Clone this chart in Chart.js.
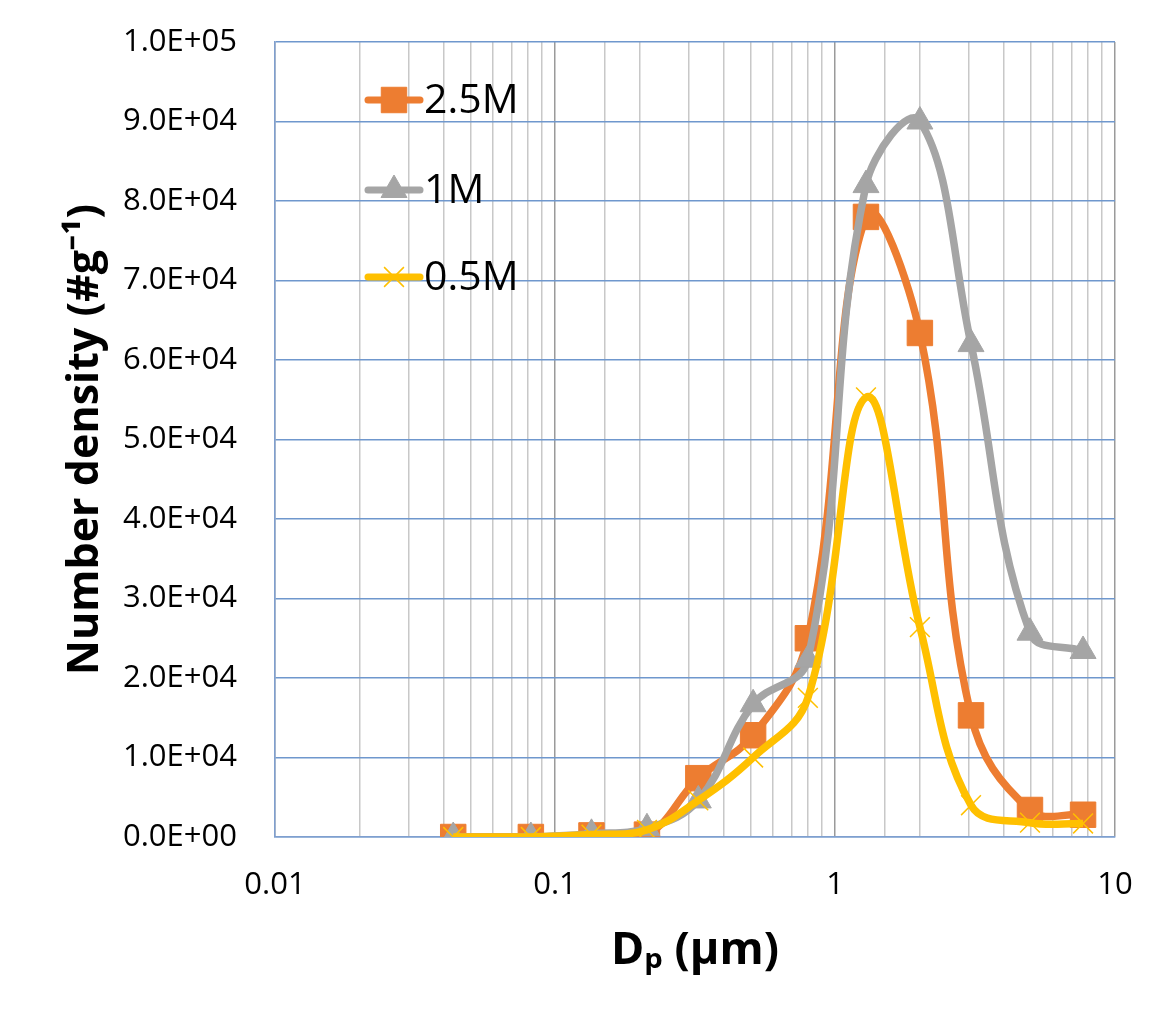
<!DOCTYPE html>
<html>
<head>
<meta charset="utf-8">
<script src="https://cdn.jsdelivr.net/npm/chart.js@4.4.0/dist/chart.umd.min.js"></script>
<style>
    html, body { margin: 0; padding: 0; background: #fff; }
    #wrap { width: 1152px; height: 1014px; position: relative; }
</style>
</head>
<body>
<div id="wrap"><canvas id="size-chart"></canvas></div>
<script>
const diameters = [0.0433, 0.082, 0.135, 0.213, 0.325, 0.51, 0.80, 1.29, 2.01, 3.06, 4.97, 7.69]
const series25M = [0, 0, 200, 300, 7400, 12800, 25000, 78000, 63400, 15300, 3400, 2800]
const series1M = [0, 0, 400, 1100, 4600, 16700, 22300, 82000, 90000, 62000, 25700, 23400]
const series05M = [0, 0, 300, 900, 4600, 10000, 17500, 55300, 26400, 4000, 1800, 1700]
const seriesNames = ['2.5M', '1M', '0.5M']
const yTickLabels = ['0.0E+00', '1.0E+04', '2.0E+04', '3.0E+04', '4.0E+04', '5.0E+04',
    '6.0E+04', '7.0E+04', '8.0E+04', '9.0E+04', '1.0E+05']
const xTickLabels = { 0.01: '0.01', 0.1: '0.1', 1: '1', 10: '10' }

const font = "'Open Sans', 'Liberation Sans', sans-serif"

function toPoints(values) {
    return values.map((v, i) => ({ x: diameters[i], y: v }))
}

function isDecade(v) {
    const l = Math.log10(v)
    return Math.abs(l - Math.round(l)) < 1e-9
}

// legend drawn as Excel does it: line segment with marker in the middle
const insideLegend = {
    id: 'insideLegend',
    afterDatasetsDraw(chart) {
        const ctx = chart.ctx
        const rows = [100, 190, 277]
        chart.data.datasets.forEach((ds, i) => {
            const y = rows[i]
            ctx.save()
            ctx.strokeStyle = ds.borderColor
            ctx.lineWidth = 7
            ctx.lineCap = 'round'
            ctx.beginPath()
            ctx.moveTo(368, y)
            ctx.lineTo(420, y)
            ctx.stroke()
            ctx.fillStyle = ds.pointBackgroundColor
            ctx.strokeStyle = ds.pointBorderColor
            ctx.lineWidth = ds.pointBorderWidth
            ctx.lineCap = 'butt'
            Chart.helpers.drawPoint(ctx, {
                pointStyle: ds.pointStyle,
                radius: ds.pointRadius,
                borderWidth: ds.pointBorderWidth
            }, 394, y)
            ctx.fillStyle = '#000'
            ctx.font = '41px ' + font
            ctx.textBaseline = 'middle'
            ctx.fillText(seriesNames[i], 424, y + 1)
            ctx.restore()
        })
    }
}

function pointSetup(color, style, radius, bw) {
    return {
        pointStyle: style,
        pointRadius: radius,
        pointHoverRadius: radius,
        pointBackgroundColor: color,
        pointBorderColor: color,
        pointBorderWidth: bw
    }
}

const ctx = document.getElementById('size-chart')
new Chart(ctx, {
    type: 'line',
    data: {
        datasets: [
            Object.assign({
                label: seriesNames[0],
                data: toPoints(series25M),
                borderColor: '#ED7D31',
                borderWidth: 7.5,
                order: 2
            }, pointSetup('#ED7D31', 'rect', 18, 1)),
            Object.assign({
                label: seriesNames[1],
                data: toPoints(series1M),
                borderColor: '#A5A5A5',
                borderWidth: 7.5,
                order: 1
            }, pointSetup('#A5A5A5', 'triangle', 15, 1)),
            Object.assign({
                label: seriesNames[2],
                data: toPoints(series05M),
                borderColor: '#FFC000',
                borderWidth: 7.5,
                order: 0
            }, pointSetup('#FFC000', 'crossRot', 14, 1.5))
        ]
    },
    options: {
        responsive: true,
        maintainAspectRatio: false,
        animation: false,
        events: [],
        layout: { padding: { top: 42, right: 37, left: 0, bottom: 0 } },
        elements: { line: { tension: 0.4, capBezierPoints: true } },
        plugins: {
            legend: { display: false },
            tooltip: { enabled: false }
        },
        scales: {
            x: {
                type: 'logarithmic',
                min: 0.01,
                max: 10,
                border: { color: '#7F9FCF', width: 1.5 },
                grid: {
                    drawTicks: false,
                    color: c => isDecade(c.tick.value) ? '#9A9A9A' : '#C8C8C8',
                    lineWidth: 1.5
                },
                ticks: {
                    autoSkip: false,
                    maxRotation: 0,
                    padding: 30,
                    color: '#000',
                    font: { family: font, size: 31 },
                    callback: function (value) { return xTickLabels[value] || '' }
                },
                title: {
                    display: true,
                    text: 'Dₚ (μm)',
                    color: '#000',
                    font: { family: font, size: 45, weight: 'bold' },
                    padding: { top: 0, bottom: 36 }
                },
                afterFit: function (scale) {
                    scale.height = 177
                    scale.paddingLeft = 0
                    scale.paddingRight = 0
                }
            },
            y: {
                min: 0,
                max: 100000,
                border: { color: '#7F9FCF', width: 1.5 },
                grid: { drawTicks: false, color: '#6F97CD', lineWidth: 1.5 },
                ticks: {
                    stepSize: 10000,
                    padding: 38,
                    color: '#000',
                    font: { family: font, size: 31 },
                    callback: function (value, index) { return yTickLabels[index] }
                },
                title: {
                    display: true,
                    text: 'Number density (#g⁻¹)',
                    color: '#000',
                    font: { family: font, size: 43, weight: 'bold' },
                    padding: { top: 60, bottom: 0 }
                },
                afterFit: function (scale) {
                    scale.width = 275
                    scale.paddingTop = 0
                    scale.paddingBottom = 0
                }
            }
        }
    },
    plugins: [insideLegend]
})
</script>
</body>
</html>
